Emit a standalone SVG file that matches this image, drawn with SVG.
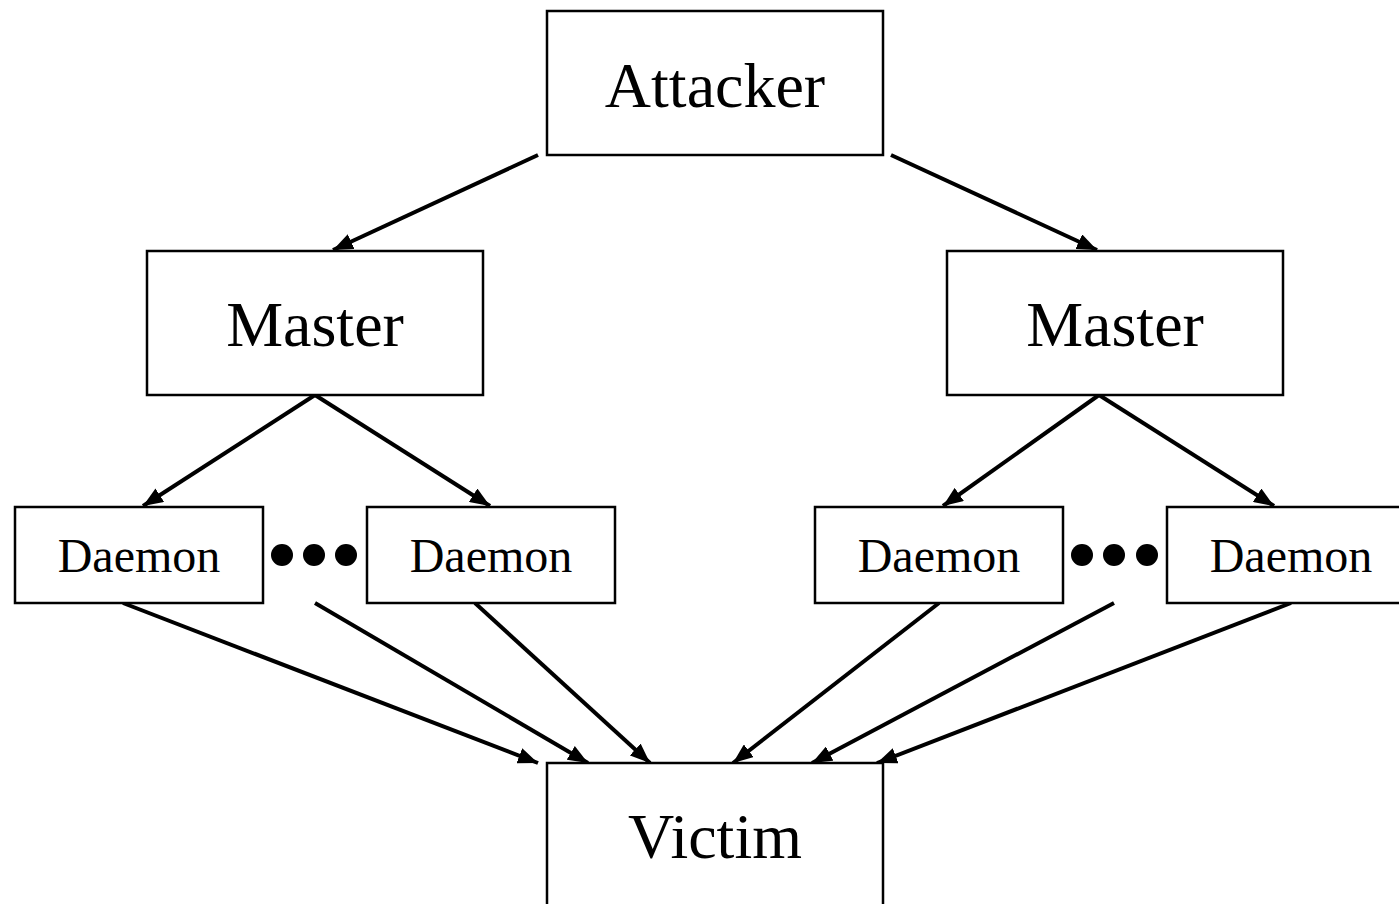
<svg xmlns="http://www.w3.org/2000/svg" width="1399" height="904" viewBox="0 0 1399 904">
<style>
.box{fill:#fff;stroke:#000;stroke-width:2.5}
.big{font-family:"Liberation Serif","Times New Roman",serif;font-size:64px;text-anchor:middle;fill:#000}
.sm{font-family:"Liberation Serif","Times New Roman",serif;font-size:48px;text-anchor:middle;fill:#000}
.edge{stroke:#000;stroke-width:4;fill:none;marker-end:url(#ah)}
</style>
<defs>
<marker id="ah" markerUnits="userSpaceOnUse" markerWidth="22" markerHeight="16" refX="20" refY="8" orient="auto">
<path d="M0,0 L20,8 L0,16 Z" fill="#000"/>
</marker>
</defs>
<rect width="1399" height="904" fill="#fff"/>
<g id="connectors">
<line class="edge" x1="538" y1="155" x2="333" y2="250"/>
<line class="edge" x1="891" y1="155" x2="1097" y2="250"/>
<line class="edge" x1="315" y1="395" x2="143" y2="506"/>
<line class="edge" x1="315" y1="395" x2="490" y2="506"/>
<line class="edge" x1="1099" y1="395" x2="943" y2="506"/>
<line class="edge" x1="1099" y1="395" x2="1274" y2="506"/>
<line class="edge" x1="123" y1="603" x2="538" y2="763"/>
<line class="edge" x1="315" y1="603" x2="588" y2="763"/>
<line class="edge" x1="475" y1="603" x2="650" y2="763"/>
<line class="edge" x1="939" y1="603" x2="733" y2="763"/>
<line class="edge" x1="1114" y1="603" x2="812" y2="763"/>
<line class="edge" x1="1291" y1="603" x2="877" y2="763"/>
</g>
<g id="attacker"><rect class="box" x="547" y="11" width="336" height="144"/><text class="big" x="715" y="107">Attacker</text></g>
<g id="master1"><rect class="box" x="147" y="251" width="336" height="144"/><text class="big" x="315" y="346">Master</text></g>
<g id="master2"><rect class="box" x="947" y="251" width="336" height="144"/><text class="big" x="1115" y="346">Master</text></g>
<g id="daemon1"><rect class="box" x="15" y="507" width="248" height="96"/><text class="sm" x="139" y="572">Daemon</text></g>
<g id="daemon2"><rect class="box" x="367" y="507" width="248" height="96"/><text class="sm" x="491" y="572">Daemon</text></g>
<g id="daemon3"><rect class="box" x="815" y="507" width="248" height="96"/><text class="sm" x="939" y="572">Daemon</text></g>
<g id="daemon4"><rect class="box" x="1167" y="507" width="248" height="96"/><text class="sm" x="1291" y="572">Daemon</text></g>
<g id="dots1"><circle cx="282" cy="555" r="11"/><circle cx="314" cy="555" r="11"/><circle cx="346" cy="555" r="11"/></g>
<g id="dots2"><circle cx="1082" cy="555" r="11"/><circle cx="1114" cy="555" r="11"/><circle cx="1147" cy="555" r="11"/></g>
<g id="victim"><rect class="box" x="547" y="763" width="336" height="160"/><text class="big" x="715" y="858">Victim</text></g>
</svg>
